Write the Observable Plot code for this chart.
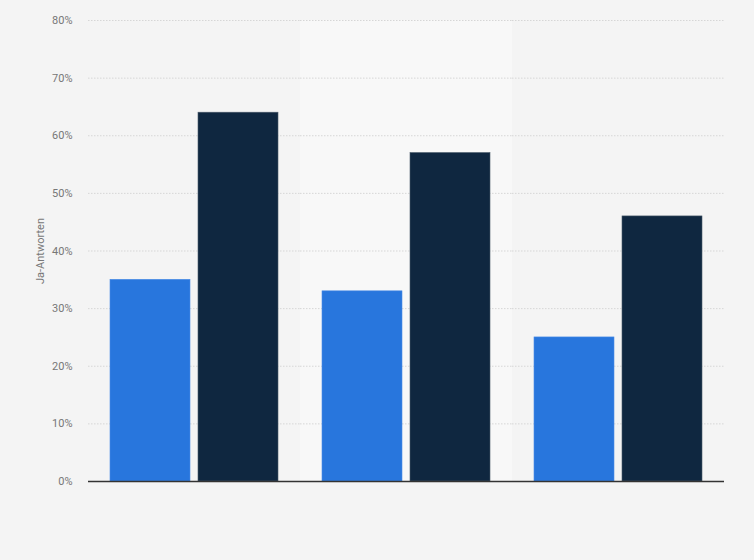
<!DOCTYPE html>
<html>
<head>
<meta charset="utf-8">
<script src="https://cdn.jsdelivr.net/npm/d3@7"></script>
<script src="https://cdn.jsdelivr.net/npm/@observablehq/plot@0.6"></script>
<style>
  html, body { margin: 0; padding: 0; background: #f4f4f4; }
  #chart { width: 754px; height: 560px; }
</style>
</head>
<body>
<div id="chart"></div>
<script>
const groups = ["Gruppe 1", "Gruppe 2", "Gruppe 3"];
const series = ["Serie A", "Serie B"];
const valuesA = [35, 33, 25];
const valuesB = [64, 57, 46];
const yTicks = [0, 10, 20, 30, 40, 50, 60, 70, 80];
const seriesColors = ["#2876dd", "#0f2740"];
const bandColors = ["#f4f4f4", "#f8f8f8", "#f4f4f4"];

const data = [];
groups.forEach((g, i) => {
  data.push({group: g, series: series[0], value: valuesA[i]});
  data.push({group: g, series: series[1], value: valuesB[i]});
});
const bands = groups.map((g, i) => ({group: g, fill: bandColors[i]}));

const chart = Plot.plot({
  width: 754,
  height: 560,
  marginLeft: 88,
  marginRight: 30,
  marginTop: 20,
  marginBottom: 79,
  style: {background: "#f4f4f4", fontFamily: "Roboto, 'Liberation Sans', sans-serif"},
  fx: {domain: groups, padding: 0, axis: null},
  x: {domain: series, paddingInner: 8 / 88, paddingOuter: 0.25, axis: null},
  y: {domain: [0, 80], axis: null},
  color: {domain: series, range: seriesColors},
  marks: [
    Plot.barY(bands, {fx: "group", y1: 0, y2: 80, fill: d => d.fill}),
    Plot.ruleY(yTicks.filter(t => t > 0), {stroke: "#d6d6d6", strokeDasharray: "1.5,1.5", strokeWidth: 1}),
    Plot.axisY({
      ticks: yTicks,
      tickSize: 0,
      tickPadding: 16,
      tickFormat: d => d + "%",
      fontSize: 11,
      color: "#777",
      label: "Ja-Antworten",
      labelAnchor: "center",
      labelOffset: 52,
      labelArrow: "none"
    }),
    Plot.barY(data, {fx: "group", x: "series", y: "value", fill: "series", stroke: d => d.series === series[0] ? "#4a8ce6" : "#4a5a6a", strokeWidth: 0.6}),
    Plot.ruleY([0], {stroke: "#333", strokeWidth: 1.5})
  ]
});
document.getElementById("chart").appendChild(chart);
</script>
</body>
</html>
